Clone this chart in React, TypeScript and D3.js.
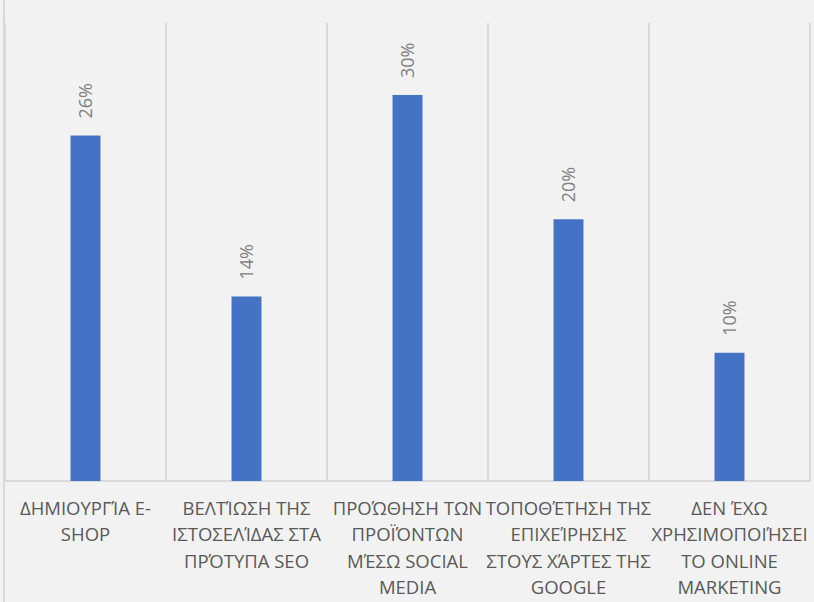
import React, { useEffect } from "react";
import * as d3 from "d3";

const categories: string[][] = [
  ["ΔΗΜΙΟΥΡΓΊΑ Ε-", "SHOP"],
  ["ΒΕΛΤΊΩΣΗ ΤΗΣ", "ΙΣΤΟΣΕΛΊΔΑΣ ΣΤΑ", "ΠΡΌΤΥΠΑ SEO"],
  ["ΠΡΟΏΘΗΣΗ ΤΩΝ", "ΠΡΟΪΌΝΤΩΝ", "ΜΈΣΩ SOCIAL", "MEDIA"],
  ["ΤΟΠΟΘΈΤΗΣΗ ΤΗΣ", "ΕΠΙΧΕΊΡΗΣΗΣ", "ΣΤΟΥΣ ΧΆΡΤΕΣ ΤΗΣ", "GOOGLE"],
  ["ΔΕΝ ΈΧΩ", "ΧΡΗΣΙΜΟΠΟΙΉΣΕΙ", "ΤΟ ONLINE", "MARKETING"],
];
const values: number[] = [26.4, 14.1, 29.5, 20.0, 9.8];
const valueLabels: string[] = ["26%", "14%", "30%", "20%", "10%"];

const W = 814;
const H = 602;
const FONT = "'Open Sans', 'Noto Sans', sans-serif";

export default function App() {
  useEffect(() => {
    document.body.style.margin = "0";
  }, []);

  const ids = categories.map((_, i) => String(i));
  const x = d3.scaleBand<string>().domain(ids).range([5, 810]).paddingInner(0).paddingOuter(0);
  const y = d3.scaleLinear().domain([0, 35]).range([481, 23]);
  const barW = x.bandwidth() * 0.186;
  const bw = x.bandwidth();

  return (
    <svg width={W} height={H} style={{ position: "absolute", left: 0, top: 0, display: "block" }}>
      <rect x={0} y={0} width={W} height={H} fill="#F2F2F2" />
      <line x1={4} x2={4} y1={0} y2={H} stroke="#D9D9D9" strokeWidth={2} />
      {d3.range(categories.length + 1).map((i) => {
        const xx = i < categories.length ? (x(String(i)) as number) : (x(String(i - 1)) as number) + bw;
        return <line key={i} x1={xx} x2={xx} y1={y(35)} y2={y(0)} stroke="#D9D9D9" strokeWidth={2} />;
      })}
      <line x1={4} x2={811} y1={y(0)} y2={y(0)} stroke="#D9D9D9" strokeWidth={2} />
      {values.map((v, i) => {
        const cx = (x(String(i)) as number) + bw / 2;
        return (
          <g key={i}>
            <rect x={cx - barW / 2} y={y(v)} width={barW} height={y(0) - y(v)} fill="#4472C4" />
            <text
              transform={`translate(${cx + 6.5},${y(v) - 17}) rotate(-90)`}
              fontFamily={FONT}
              fontSize={18}
              fill="#7F7F7F"
              textAnchor="start"
            >
              {valueLabels[i]}
            </text>
            <text fontFamily={FONT} fontSize={18.5} fill="#595959" textAnchor="middle">
              {categories[i].map((line, j) => (
                <tspan key={j} x={cx} y={515 + j * 26.3}>
                  {line}
                </tspan>
              ))}
            </text>
          </g>
        );
      })}
    </svg>
  );
}
